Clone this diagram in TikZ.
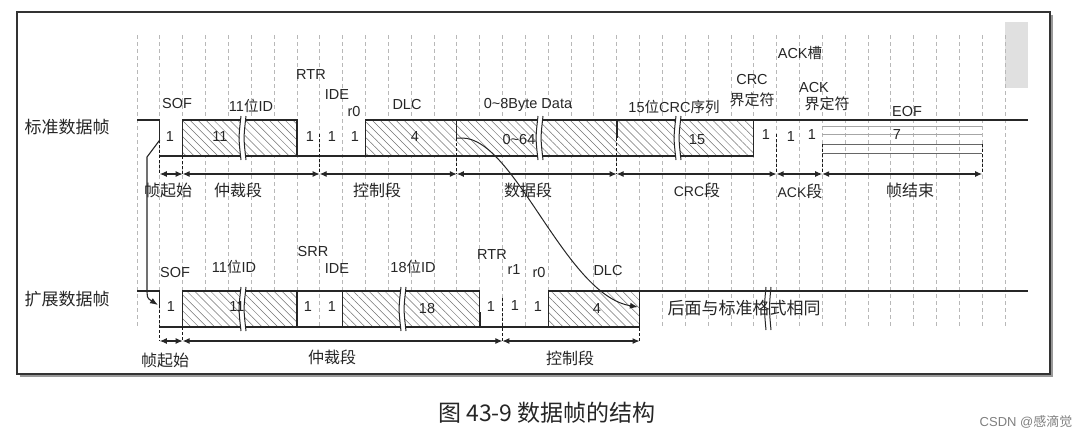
\documentclass[tikz,border=0pt]{standalone}
\usepackage{fontspec}
\setmainfont{Liberation Sans}
\newfontfamily\cjk{Noto Sans CJK SC}
\usetikzlibrary{patterns.meta,arrows.meta}
\newcommand\brkmark[3]{%
  \fill[white] (#1,#2-4) rectangle (#1+5,#3+4);
  \draw[black!85,line width=1pt] (#1+1,#2-4) .. controls (#1-1.5,{(#2+#3)/2}) .. (#1+1,#3+4);
  \draw[black!85,line width=1pt] (#1+6,#2-4) .. controls (#1+3.5,{(#2+#3)/2}) .. (#1+6,#3+4);
}
\begin{document}
\begin{tikzpicture}[x=1pt,y=-1pt,
  grid/.style={black!28,line width=0.7pt,dash pattern=on 3.5pt off 3.5pt},
  sig/.style={black!85,line width=1.2pt},
  hbox/.style={sig,preaction={fill=white},pattern={Lines[angle=-45,distance=5.6pt,line width=0.5pt]},pattern color=black!55},
  bnd/.style={black!90,line width=1.1pt,dash pattern=on 3pt off 2pt},
  dim/.style={black!85,line width=1.1pt,{Latex[length=7pt,width=6pt]}-{Latex[length=7pt,width=6pt]}},
  lbl/.style={inner sep=0pt,text=black!85,font=\fontsize{14.5}{16}\selectfont},
  zh/.style={inner sep=0pt,text=black!85,font=\cjk\fontsize{16}{18}\selectfont},
  side/.style={inner sep=0pt,text=black!85,font=\cjk\fontsize{17}{19}\selectfont},
]
\useasboundingbox (0,0) rectangle (1091,437);
\fill[white] (0,0) rectangle (1091,437);
% frame with shadow
\fill[black!40] (20,15) rectangle (1053,377);
\draw[black!80,line width=1.3pt,fill=white] (17,12) rectangle (1050,374);
\fill[black!12] (1005,22) rectangle (1028,88);
% grid
\foreach \k in {0,...,38} \draw[grid] ({137+22.84*\k},35) -- ({137+22.84*\k},327);

% ================= top row =================
\node[side] (std) at (67,127) {标准数据帧};
\draw[sig] (137,120) -- (159.8,120) -- (159.8,140);
\draw[sig] (159.8,156) -- (753.7,156);
\draw[hbox] (182.7,120) rectangle (296.9,156);
\draw[hbox] (365.4,120) rectangle (753.7,156);
\draw[sig] (456.8,120) -- (456.8,138);
\draw[sig,line width=1.8pt] (616.6,120) -- (616.6,138);
\draw[sig] (753.7,120) -- (1028,120);
\draw[black!35,line width=0.9pt] (822.2,126) -- (982.1,126) (822.2,134) -- (982.1,134);
\draw[black!60,line width=0.9pt] (822.2,144) -- (982.1,144) (822.2,153) -- (982.1,153);

% values top
\node[lbl] (v1) at (170,137) {1};
\node[lbl] (v2) at (220,137) {11};
\node[lbl] (v3) at (310,137) {1};
\node[lbl] (v4) at (332,137) {1};
\node[lbl] (v5) at (355,137) {1};
\node[lbl] (v6) at (415,137) {4};
\node[lbl] (v7) at (519,140) {0\textasciitilde 64};
\node[lbl] (v8) at (697,140) {15};
\node[lbl] (v9) at (766,135) {1};
\node[lbl] (v10) at (791,137) {1};
\node[lbl] (v11) at (812,135) {1};
\node[lbl] (v12) at (897,135) {7};

\brkmark{240}{120}{156}
\brkmark{537}{120}{156}
\brkmark{675}{120}{156}

% labels top
\node[lbl] (sof) at (177,104) {SOF};
\node[lbl] (id11) at (251,106) {11{\cjk 位}ID};
\node[lbl] (rtr) at (311,75) {RTR};
\node[lbl] (ide) at (337,95) {IDE};
\node[lbl] (r0) at (354,112) {r0};
\node[lbl] (dlc) at (407,105) {DLC};
\node[lbl] (data) at (528,105) {0\textasciitilde 8Byte Data};
\node[lbl] (crcseq) at (674,107) {15{\cjk 位}CRC{\cjk 序列}};
\node[lbl] (crcd1) at (752,80) {CRC};
\node[lbl,font=\cjk\fontsize{15}{17}\selectfont] (crcd2) at (752,100) {界定符};
\node[lbl] (ackslot) at (800,53) {ACK{\cjk 槽}};
\node[lbl] (ackd1) at (814,88) {ACK};
\node[lbl,font=\cjk\fontsize{15}{17}\selectfont] (ackd2) at (827,104) {界定符};
\node[lbl] (eof) at (907,112) {EOF};

% boundaries top
\draw[bnd] (159.8,140) -- (159.8,174);
\draw[bnd] (182.7,156) -- (182.7,174);
\draw[bnd] (319.7,134) -- (319.7,174);
\draw[bnd] (456.8,138) -- (456.8,174);
\draw[bnd] (616.6,138) -- (616.6,174);
\draw[bnd] (776.5,134) -- (776.5,174);
\draw[bnd] (822.2,144) -- (822.2,174);
\draw[bnd] (982.1,144) -- (982.1,174);
\coordinate (a1) at (159.8,174);
\coordinate (a2) at (182.7,174);
\coordinate (a8) at (319.7,174);
\coordinate (a14) at (456.8,174);
\coordinate (a21) at (616.6,174);
\coordinate (a28) at (776.5,174);
\coordinate (a30) at (822.2,174);
\coordinate (a37) at (982.1,174);
\draw[dim] (a1) -- (a2);
\draw[dim] (a2) -- (a8);
\draw[dim] (a8) -- (a14);
\draw[dim] (a14) -- (a21);
\draw[dim] (a21) -- (a28);
\draw[dim] (a28) -- (a30);
\draw[dim] (a30) -- (a37);
\node[zh] (s1) at (168,190) {帧起始};
\node[zh] (s2) at (238,190) {仲裁段};
\node[zh] (s3) at (377,190) {控制段};
\node[zh] (s4) at (528,190) {数据段};
\node[zh] (s5) at (697,190) {\fontspec{Liberation Sans}\fontsize{14}{16}\selectfont CRC{\cjk\fontsize{16}{18}\selectfont 段}};
\node[zh] (s6) at (800,191) {\fontspec{Liberation Sans}\fontsize{14}{16}\selectfont ACK{\cjk\fontsize{16}{18}\selectfont 段}};
\node[zh] (s7) at (910,190) {帧结束};

% ================= bottom row =================
\node[side] (ext) at (67,299) {扩展数据帧};
\draw[sig] (137,291) -- (159.8,291) -- (159.8,305);
\draw[sig] (159.8,327) -- (639.5,327);
\draw[sig] (182.7,291) -- (479.6,291);
\draw[hbox] (182.7,291) rectangle (296.9,327);
\draw[hbox] (342.6,291) rectangle (479.6,327);
\draw[sig,line width=1.8pt] (479.6,312) -- (479.6,327);
\draw[hbox] (548.1,291) -- (639.5,291) -- (639.5,303) -- (639.5,327) -- (548.1,327) -- cycle;
\draw[sig] (639.5,291) -- (1028,291);

\brkmark{240}{291}{327}
\brkmark{400}{291}{327}

\node[lbl] (w1) at (171,307) {1};
\node[lbl] (w2) at (237,307) {11};
\node[lbl] (w3) at (308,307) {1};
\node[lbl] (w4) at (332,307) {1};
\node[lbl] (w5) at (427,309) {18};
\node[lbl] (w6) at (491,307) {1};
\node[lbl] (w7) at (515,306) {1};
\node[lbl] (w8) at (538,307) {1};
\node[lbl] (w9) at (597,309) {4};
\node[side] (same) at (744,308) {后面与标准格式相同};

\draw[black!85,line width=1pt] (766,287) .. controls (764,308) .. (766,330);
\draw[black!85,line width=1pt] (771,287) .. controls (769,308) .. (771,330);

\node[lbl] (bsof) at (175,273) {SOF};
\node[lbl] (bid11) at (234,267) {11{\cjk 位}ID};
\node[lbl] (srr) at (313,252) {SRR};
\node[lbl] (bide) at (337,269) {IDE};
\node[lbl] (id18) at (413,267) {18{\cjk 位}ID};
\node[lbl] (brtr) at (492,255) {RTR};
\node[lbl] (r1) at (514,270) {r1};
\node[lbl] (br0) at (539,273) {r0};
\node[lbl] (bdlc) at (608,271) {DLC};

\draw[bnd] (159.8,305) -- (159.8,341);
\draw[bnd] (182.7,327) -- (182.7,341);
\draw[bnd] (502.4,298) -- (502.4,341);
\draw[bnd] (639.5,303) -- (639.5,341);
\coordinate (b1) at (159.8,341);
\coordinate (b2) at (182.7,341);
\coordinate (b16) at (502.4,341);
\coordinate (b22) at (639.5,341);
\draw[dim] (b1) -- (b2);
\draw[dim] (b2) -- (b16);
\draw[dim] (b16) -- (b22);
\node[zh] (t1) at (165,360) {帧起始};
\node[zh] (t2) at (332,357) {仲裁段};
\node[zh] (t3) at (570,358) {控制段};

% connecting arrows
\coordinate (c0) at (159.8,140);
\coordinate (c1) at (147,157);
\coordinate (c2) at (147,287);
\coordinate (c3) at (158,305);
\draw[black!85,line width=1.1pt,-{Latex[length=8pt,width=6pt]}] (c0) -- (c1) -- (c2) .. controls (147,298) .. (c3);
\coordinate (d0) at (456.8,138);
\coordinate (d1) at (638,307);
\draw[black!85,line width=1pt,-{Latex[length=8pt,width=6pt]}] (d0) -- (462,138) .. controls (515,138) and (565,295) .. (d1);

% caption and watermark
\node[inner sep=0pt,text=black!85,font=\cjk\fontsize{23}{26}\selectfont] (cap) at (547,413) {图 43-9 数据帧的结构};
\node[inner sep=0pt,text=black!50,font=\fontsize{13}{15}\selectfont] (wm) at (1026,422) {CSDN @{\cjk 感滴觉}};
\end{tikzpicture}
\end{document}
